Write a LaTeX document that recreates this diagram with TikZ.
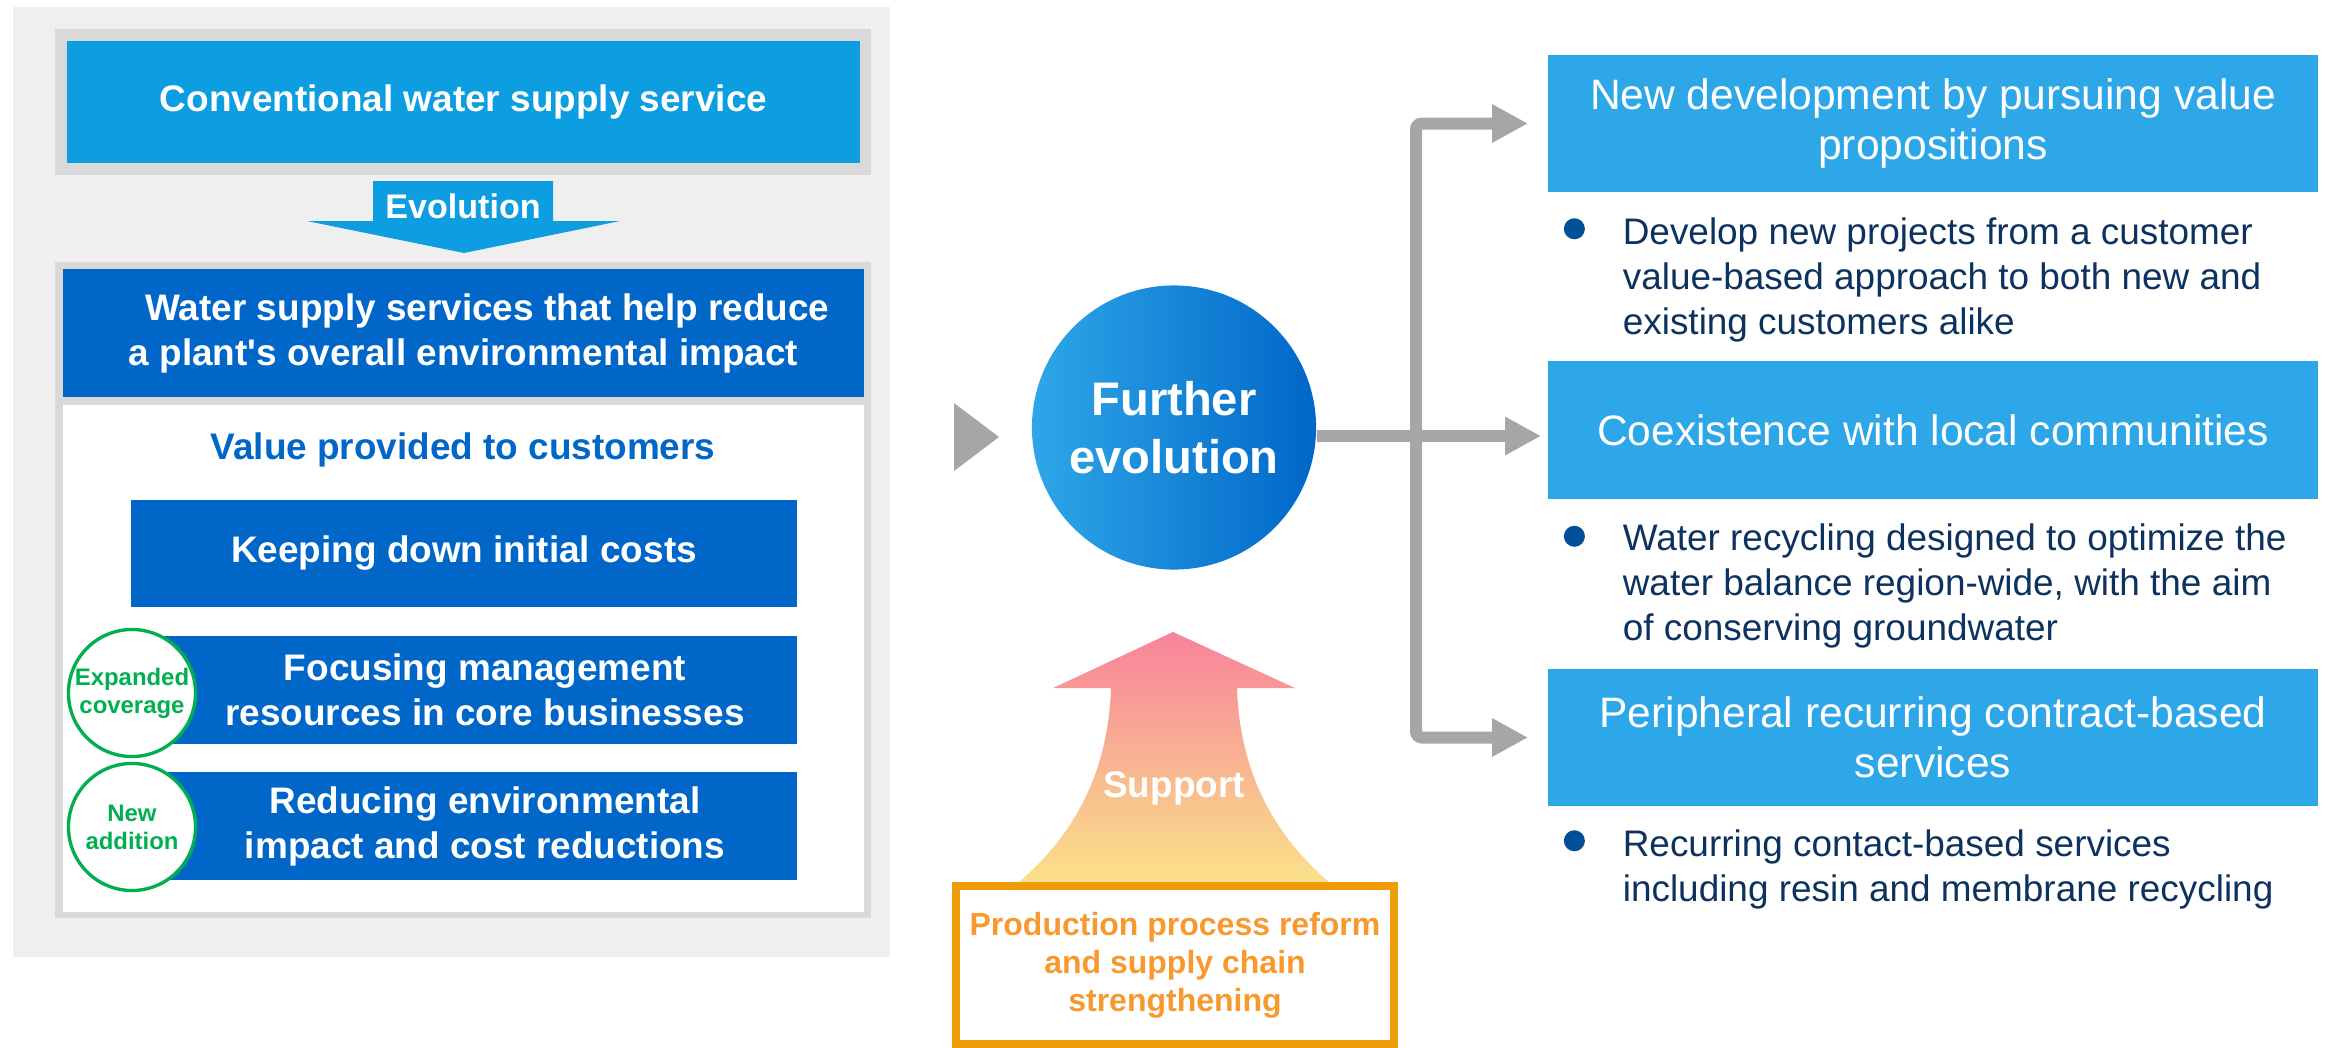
\documentclass[tikz,border=0pt]{standalone}
\usepackage{fontspec}
\setmainfont{Liberation Sans}[Ligatures=TeXOff]
\usepackage{xcolor}
\usepackage{tikz}
\usetikzlibrary{arrows.meta, positioning, shapes.geometric}

\definecolor{panelgrey}{HTML}{EFEFEF}
\definecolor{framegrey}{HTML}{D9D9D9}
\definecolor{skyblue}{HTML}{0C9EE0}
\definecolor{deepblue}{HTML}{0066C8}
\definecolor{lightblue}{HTML}{2EA7E8}
\definecolor{arrowgrey}{HTML}{A6A6A6}
\definecolor{tagreen}{HTML}{00B050}
\definecolor{navytext}{HTML}{0D325F}
\definecolor{dotblue}{HTML}{004F98}
\definecolor{pinktop}{HTML}{F7839A}
\definecolor{yellowbot}{HTML}{FAE189}
\definecolor{orangeline}{HTML}{EE9C08}
\definecolor{orangetext}{HTML}{F7992F}

\tikzstyle{block}    = [rectangle, inner sep=0pt, text=white, align=center,
                        font=\fontsize{10.5}{12.8}\selectfont\bfseries]
\tikzstyle{valuebox} = [block, fill=deepblue, minimum width=6.66cm,
                        minimum height=1.07cm]
\tikzstyle{tag}      = [circle, draw=tagreen, line width=0.95pt, fill=white,
                        minimum size=1.27cm, inner sep=0pt, text=tagreen,
                        align=center, font=\fontsize{6.8}{8}\selectfont\bfseries]
\tikzstyle{goal}     = [rectangle, fill=lightblue, text=white, align=center,
                        minimum width=7.7cm, minimum height=1.37cm, inner sep=0pt,
                        font=\fontsize{12.1}{14.2}\selectfont]
\tikzstyle{point}    = [inner sep=0pt, text=navytext, align=left,
                        font=\fontsize{10.5}{12.8}\selectfont]
\tikzstyle{dot}      = [circle, fill=dotblue, minimum size=0.21cm, inner sep=0pt]
\tikzstyle{flow}     = [draw=arrowgrey, line width=0.12cm,
                        -{Triangle[length=0.36cm, width=0.36cm]}]

\begin{document}
\begin{tikzpicture}[x=0.01cm, y=-0.01cm]
    \useasboundingbox (0,0) rectangle (2326,1048);

    \fill[panelgrey] (13,7) rectangle (890,957);
    \fill[framegrey] (55,29) rectangle (871,175);
    \node (conv) [block, fill=skyblue, minimum width=7.93cm, minimum height=1.22cm]
        at (463.5,102) {Conventional water supply service};

    \fill[skyblue] (373,181) -- (553,181) -- (553,221) -- (620,221) -- (464,253)
        -- (307,221) -- (373,221) -- cycle;
    \node (evol) [block, font=\fontsize{9.7}{11}\selectfont\bfseries] at (463,206) {Evolution};

    \fill[framegrey] (55,262) rectangle (871,918);
    \node (aim) [block, fill=deepblue, minimum width=8.01cm, minimum height=1.28cm]
        at (463.5,333) {\hspace*{1.3em}Water supply services that help reduce\\a plant's overall environmental impact};
    \fill[white] (63,405) rectangle (864,912);
    \node (value) [block, text=deepblue] at (463,450) {Value provided to customers};

    \node (keep)   [valuebox] at (464,553.5) {Keeping down initial costs};
    \node (focus)  [valuebox] at (464,690)
        {\hspace*{0.42cm}Focusing management\\\hspace*{0.42cm}resources in core businesses};
    \node (reduce) [valuebox] at (464,826)
        {\hspace*{0.42cm}Reducing environmental\\\hspace*{0.42cm}impact and cost reductions};
    \node (wider) [tag] at (132,693) {Expanded\\coverage};
    \node (added) [tag] at (132,827) {New\\addition};

    \fill[arrowgrey] (954,403) -- (999,437) -- (954,471) -- cycle;

    \node (newdev) [goal] at (1933,123.5) {New development by pursuing value\\propositions};
    \node (coex)   [goal] at (1933,430) {Coexistence with local communities};
    \node (recur)  [goal] at (1933,737.5) {Peripheral recurring contract-based\\services};

    \node (p1) [point, below right=0.24cm and 0.75cm of newdev.south west]
        {Develop new projects from a customer\\value-based approach to both new and\\existing customers alike};
    \node (p2) [point, below right=0.24cm and 0.75cm of coex.south west]
        {Water recycling designed to optimize the\\water balance region-wide, with the aim\\of conserving groundwater};
    \node (p3) [point, below right=0.22cm and 0.75cm of recur.south west]
        {Recurring contact-based services\\including resin and membrane recycling};
    \node [dot, left=0.365cm of p1.north west, yshift=-0.12cm] {};
    \node [dot, left=0.365cm of p2.north west, yshift=-0.13cm] {};
    \node [dot, left=0.365cm of p3.north west, yshift=-0.12cm] {};

    \node (evo) [circle, minimum size=2.84cm, inner sep=0pt, left color=lightblue,
        right color=deepblue, text=white, align=center,
        font=\fontsize{13.4}{16.5}\selectfont\bfseries] at (1174,427.5) {Further\\evolution};

    \coordinate (fork) at (1416,436);
    \draw [flow, shorten >=0.06cm] (evo.east |- fork) -- (coex.west |- fork);
    \draw [flow, {Triangle[length=0.36cm, width=0.36cm]}-{Triangle[length=0.36cm, width=0.36cm]},
        rounded corners=0.06cm, shorten <=0.19cm, shorten >=0.19cm]
        (newdev.west) -| (fork) |- (recur.west);

    \shade[top color=pinktop, bottom color=yellowbot]
        (1173,632) -- (1295,688) -- (1237,688) .. controls (1240,780) and (1280,840) .. (1329,882)
        -- (1019,882) .. controls (1068,840) and (1108,780) .. (1111,688) -- (1053,688) -- cycle;
    \node (lift) [block, font=\fontsize{10.5}{12.8}\selectfont\bfseries] at (1174,788) {Support};

    \node (prod) [rectangle, draw=orangeline, line width=0.08cm, fill=white,
        minimum width=4.38cm, minimum height=1.58cm, text=orangetext, align=center,
        font=\fontsize{9.1}{10.8}\selectfont\bfseries] at (1175,965)
        {Production process reform\\and supply chain\\strengthening};
\end{tikzpicture}
\end{document}
